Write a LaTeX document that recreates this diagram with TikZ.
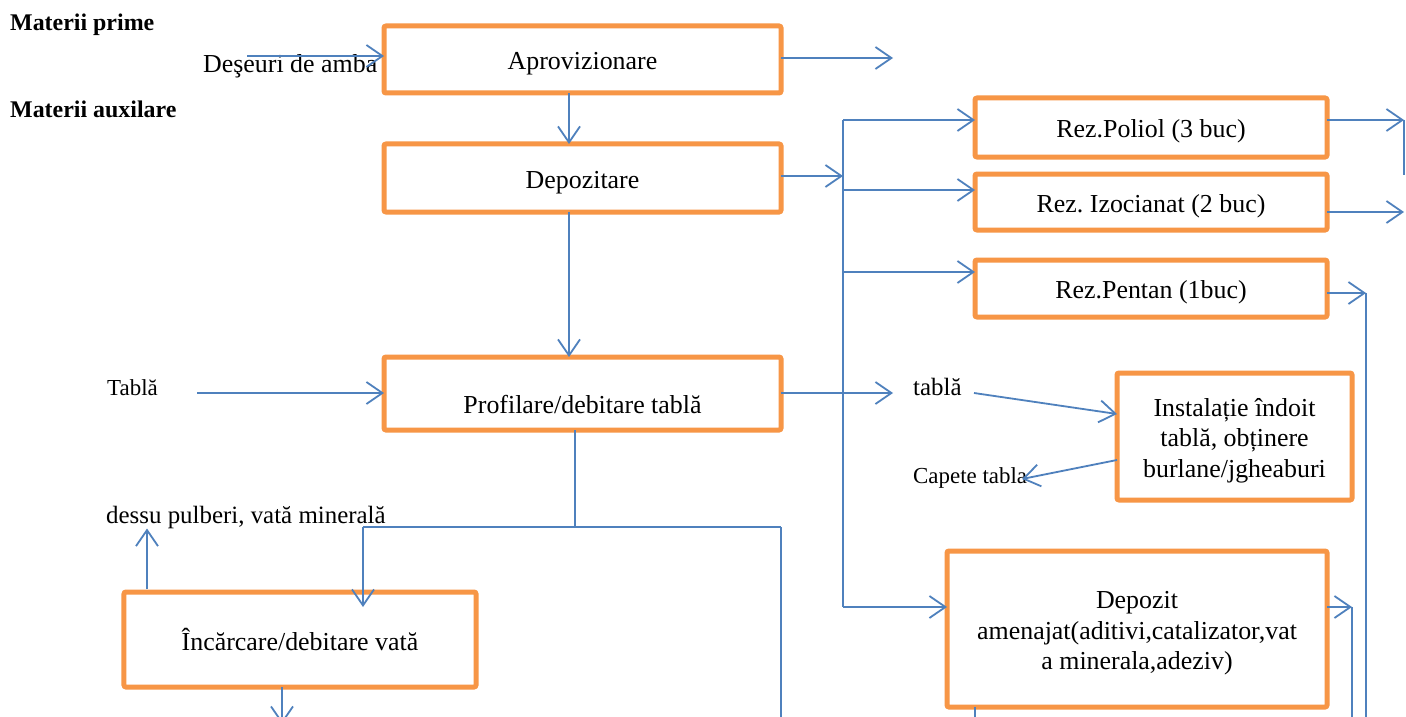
\documentclass[tikz,border=0pt]{standalone}
\usepackage{fontspec}
\setmainfont{Liberation Serif}
\usetikzlibrary{arrows.meta,calc}
\definecolor{boxorange}{HTML}{F79646}
\definecolor{flowblue}{HTML}{4F81BD}
\newcommand\bxfont{\fontsize{26}{30.5}\selectfont}
\frenchspacing
\begin{document}
\begin{tikzpicture}[x=1bp,y=-1bp,
  procbox/.style={draw=boxorange, line width=5bp, rounded corners=2bp, inner sep=0pt, outer sep=0pt, align=center, font=\bxfont},
  oneline/.style={text height=26bp, text depth=6bp},
  lbl/.style={inner sep=0pt, anchor=base west},
  conn/.style={draw=flowblue, line width=1.8bp},
  arr/.style={conn, -{Straight Barb[length=16bp,width=22bp]}}
]
\useasboundingbox[fill=white] (0,0) rectangle (1406,716);

% boxes
\node[procbox, oneline, minimum width=397bp, minimum height=67bp] (aprov) at (582.5,59.5) {Aprovizionare};
\node[procbox, oneline, minimum width=397bp, minimum height=68bp] (depoz) at (582.5,178) {Depozitare};
\node[procbox, minimum width=397bp, minimum height=73bp, text height=46bp, text depth=6bp] (profil) at (582.5,393.5) {Profilare/debitare tablă};
\node[procbox, minimum width=352bp, minimum height=95bp] (incarc) at (300,639.5) {Încărcare/debitare vată};
\node[procbox, oneline, minimum width=352bp, minimum height=59bp] (poliol) at (1151,127.5) {Rez.Poliol (3 buc)};
\node[procbox, oneline, minimum width=352bp, minimum height=56bp] (izo) at (1151,202) {Rez. Izocianat (2 buc)};
\node[procbox, oneline, minimum width=352bp, minimum height=57bp] (pentan) at (1151,288.5) {Rez.Pentan (1buc)};
\node[procbox, minimum width=235bp, minimum height=127bp] (inst) at (1234.5,436.5) {\rule{0pt}{26bp}Instalație îndoit\\tablă, obținere\\burlane/jgheaburi};
\node[procbox, minimum width=380bp, minimum height=156bp] (depozit) at (1137,629) {\rule{0pt}{26bp}Depozit\\amenajat(aditivi,catalizator,vat\\a minerala,adeziv)};

% labels
\node[lbl, font=\fontsize{24}{28}\selectfont\bfseries] (mprime) at (10,31) {Materii prime};
\node[lbl, font=\fontsize{24}{28}\selectfont\bfseries] (maux) at (10,118) {Materii auxilare};
\node[lbl, font=\bxfont] (deseuri) at (203,73) {Deşeuri de amba};
\node[lbl, font=\fontsize{23}{27}\selectfont] (tabla1) at (107,395) {Tablă};
\node[lbl, font=\fontsize{25}{29}\selectfont] (tabla2) at (913,395) {tablă};
\node[lbl, font=\fontsize{23}{27}\selectfont] (capete) at (913,483) {Capete tabla};
\node[lbl, font=\fontsize{25}{29}\selectfont] (dessu) at (106,523) {dessu pulberi, vată minerală};

% free ends and helper coordinates
\coordinate (in1) at (247,56);
\coordinate (out1) at (893,58);
\coordinate (vx) at (569,0);
\coordinate (trunk) at (843,0);
\coordinate (tablaIn) at (197,393);
\coordinate (tablaOut) at (893,393);
\coordinate (tstart) at (974,393);
\coordinate (capEnd) at (1022,479);
\coordinate (split) at (575,527);
\coordinate (hL) at (363,527);
\coordinate (hR) at (781,527);
\coordinate (hRend) at (781,722);
\coordinate (upx) at (147,0);
\coordinate (botA) at (282,724);
\coordinate (polEnd) at (1404,120);
\coordinate (polV) at (1404,175);
\coordinate (izoEnd) at (1404,212);
\coordinate (pentR) at (1366,293);
\coordinate (pentBot) at (1366,722);
\coordinate (depR) at (1352,607);
\coordinate (depBot) at (1352,722);
\coordinate (dzx) at (975,0);
\coordinate (dzBot) at (975,722);

% connectors
\draw[arr] (in1) -- ([yshift=3.5bp]aprov.west);
\draw[arr] ([yshift=1.5bp]aprov.east) -- (out1);
\draw[arr] (aprov.south -| vx) -- (depoz.north -| vx);
\draw[arr] ([yshift=2bp]depoz.east) -- ([yshift=2bp]depoz.east -| trunk);
\draw[conn] ([yshift=7.5bp]poliol.west -| trunk) -- ([yshift=22bp]depozit.west -| trunk);
\draw[arr] ([yshift=7.5bp]poliol.west -| trunk) -- ([yshift=7.5bp]poliol.west);
\draw[arr] ([yshift=12bp]izo.west -| trunk) -- ([yshift=12bp]izo.west);
\draw[arr] ([yshift=16.5bp]pentan.west -| trunk) -- ([yshift=16.5bp]pentan.west);
\draw[arr] ([yshift=22bp]depozit.west -| trunk) -- ([yshift=22bp]depozit.west);
\draw[arr] (depoz.south -| vx) -- (profil.north -| vx);
\draw[arr] (tablaIn) -- (profil.west |- tablaIn);
\draw[arr] (profil.east |- tablaOut) -- (tablaOut);
\draw[arr] (tstart) -- ([yshift=22.5bp]inst.west);
\draw[arr] ([yshift=-23.5bp]inst.west) -- (capEnd);
\draw[conn] (profil.south -| split) -- (split);
\draw[conn] (hL) -- (hR);
\draw[arr] (hL) -- ([yshift=-15bp]incarc.north -| hL);
\draw[conn] (hR) -- (hRend);
\draw[arr] ([yshift=3bp]incarc.north -| upx) -- (dessu.south -| upx);
\draw[arr] (incarc.south -| botA) -- (botA);
\draw[arr] ([yshift=7.5bp]poliol.east) -- (polEnd);
\draw[conn] (polEnd) -- (polV);
\draw[arr] ([yshift=-10bp]izo.east) -- (izoEnd);
\draw[arr] ([yshift=-4.5bp]pentan.east) -- (pentR);
\draw[conn] (pentR) -- (pentBot);
\draw[arr] ([yshift=22bp]depozit.east) -- (depR);
\draw[conn] (depR) -- (depBot);
\draw[conn] (depozit.south -| dzx) -- (dzBot);
\end{tikzpicture}
\end{document}
